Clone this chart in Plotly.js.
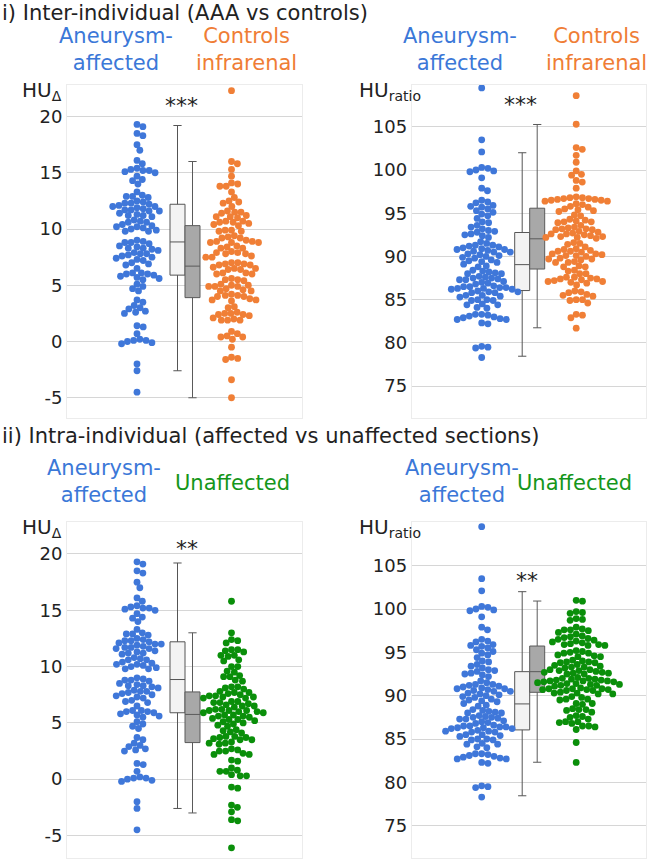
<!DOCTYPE html>
<html>
<head>
<meta charset="utf-8">
<script src="https://cdn.plot.ly/plotly-3.0.1.min.js"></script>
<style>
  html, body { margin: 0; padding: 0; background: #fff; }
  #chart { width: 647px; height: 861px; }
</style>
</head>
<body>
<div id="chart"></div>
<script>
// HU delta values
var affectedDelta = [19.3, 19.1, 18.5, 18.3, 17.5, 17.0, 16.1, 15.8,
    15.4, 15.3, 15.2, 15.2, 15.1, 15.0,
    14.7, 14.4, 14.3, 14.0, 13.3,
    13.0, 12.9, 12.9, 12.8,
    12.5, 12.4, 12.3, 12.3, 12.2,
    12.1, 12.0, 12.0, 11.9,
    11.8, 11.7, 11.7, 11.6, 11.6,
    11.4, 11.3, 11.2, 11.2, 11.1,
    10.8, 10.7, 10.6, 10.6,
    10.4, 10.3, 10.2, 10.2, 10.1,
    10.0, 9.9, 9.8, 9.8,
    9.0, 8.9, 8.8, 8.8, 8.7,
    8.5, 8.4, 8.3, 8.3, 8.2, 8.1,
    7.9, 7.8, 7.8, 7.7, 7.6,
    7.5, 7.4, 7.3, 7.2,
    7.0, 6.9, 6.8, 6.5,
    6.1, 6.1, 6.0, 6.0, 5.9,
    5.8, 5.7, 5.6, 5.5,
    5.1, 4.9, 4.7, 4.5,
    3.7, 3.5, 3.2, 3.0, 2.9, 2.7, 2.6, 2.5,
    1.4, 1.3, 0.7,
    0.2, 0.1, 0.1, 0.0, -0.1, -0.2,
    -2.0, -2.6, -4.5];

var controlsDelta = [22.3,
    16.0, 15.8, 15.3, 14.7, 14.1, 14.0, 13.8, 13.8, 13.3, 12.8,
    12.5, 12.4, 12.3, 12.0,
    11.6, 11.5, 11.5, 11.4,
    11.2, 11.1, 11.1, 11.0,
    10.7, 10.7, 10.6, 10.6, 10.5,
    10.4, 10.3,
    9.9, 9.9, 9.8, 9.8,
    9.4, 9.3, 9.2, 9.2,
    9.0, 8.9, 8.9, 8.8, 8.8, 8.8,
    8.5, 8.4, 8.3, 8.3,
    8.0, 7.9, 7.9, 7.8, 7.8,
    7.6, 7.5, 7.5,
    7.0, 7.0, 6.9, 6.9, 6.8, 6.8,
    6.6, 6.5, 6.5, 6.4, 6.4,
    6.1, 6.1, 6.0, 6.0,
    5.6, 5.5, 5.5, 5.4,
    5.1, 5.0, 5.0, 4.9, 4.9, 4.9,
    4.7, 4.6, 4.5, 4.5,
    4.2, 4.1, 4.1, 4.0, 4.0,
    3.8, 3.7, 3.7, 3.6,
    3.1, 3.0,
    2.6, 2.5, 2.5, 2.4, 2.4, 2.3,
    2.1, 2.0, 1.9, 1.9, 1.9,
    0.9, 0.7, 0.5, 0.4, 0.4, 0.2,
    -0.5, -1.4, -1.5, -1.6, -3.4, -5.0];

var unaffectedDelta = [15.8, 13.0,
    12.4, 12.3, 12.1,
    11.5, 11.5, 11.4, 11.3,
    11.0, 11.0, 10.9, 10.6, 10.5,
    10.0, 10.0, 9.6, 9.5,
    9.2, 9.1, 9.1, 8.8, 8.7,
    8.2, 8.2, 8.1, 8.0,
    7.8, 7.7, 7.7, 7.6,
    7.5, 7.4, 7.4, 7.3, 7.3, 7.2, 7.2,
    6.9, 6.9, 6.8, 6.8, 6.7,
    6.6, 6.5, 6.5, 6.4,
    6.2, 6.2, 6.1, 6.1, 6.1, 6.0, 6.0, 5.9, 5.9,
    5.7, 5.7, 5.6, 5.6, 5.5,
    5.4, 5.3, 5.3, 5.2, 5.1,
    5.0, 4.9, 4.8, 4.7,
    4.4, 4.3, 4.2, 4.1,
    3.8, 3.8, 3.7, 3.7, 3.6, 3.5, 3.5,
    3.3, 3.2, 3.2, 3.1,
    2.7, 2.6, 2.5, 2.5,
    2.3, 2.2, 2.2, 1.7, 1.6,
    1.0, 0.8, 0.7, 0.7, 0.4, 0.3, 0.3,
    -0.7, -0.8, -2.3, -2.5, -2.9,
    -3.6, -3.7, -6.1];

// HU ratio values
var affectedRatio = [109.5, 103.5, 102.1,
    100.3, 100.2, 100.0, 99.9, 99.8, 99.1,
    97.9, 97.6,
    96.5, 96.3, 96.2, 95.9, 95.8, 95.7, 95.5, 95.3, 95.1, 94.9,
    94.7, 94.4, 94.0, 93.9, 93.6,
    93.4, 93.2, 93.0, 92.9, 92.8, 92.6, 92.5, 92.4, 92.2,
    91.7, 91.5, 91.3, 91.3, 91.2, 91.1,
    91.0, 90.9, 90.8, 90.8, 90.7,
    90.6, 90.5, 90.5, 90.3, 90.2, 90.1, 90.0,
    89.9, 89.8, 89.6, 89.5, 89.4, 89.3,
    89.1, 88.9, 88.8,
    88.4, 88.3, 88.2, 88.1, 88.0, 88.0,
    87.7, 87.6, 87.5, 87.5, 87.4, 87.3, 87.3,
    87.1, 87.0, 86.9, 86.8,
    86.6, 86.5, 86.5, 86.4, 86.4, 86.3, 86.3, 86.2, 86.2,
    86.0, 85.9, 85.9, 85.8, 85.8,
    85.5, 85.5, 85.4, 85.3,
    85.0, 85.0, 84.9, 84.9,
    84.5, 84.4, 84.4, 84.1, 84.0,
    83.3, 83.3, 83.2, 83.1, 83.0,
    82.9, 82.8, 82.7, 82.7, 82.3, 82.2,
    79.6, 79.5, 79.4, 78.3];

var controlsRatio = [108.6, 105.3, 102.6, 102.4, 101.7, 100.9,
    99.9, 99.5, 99.4, 98.8, 98.6, 97.9,
    96.9, 96.8, 96.8, 96.7, 96.7, 96.6, 96.6, 96.5, 96.5, 96.4, 96.4,
    96.1, 96.0, 95.8, 95.7,
    95.5, 95.4, 95.3, 95.2,
    94.8, 94.7,
    94.3, 94.2, 94.1, 94.0, 94.0, 93.9,
    93.6, 93.4, 93.3, 93.2, 93.2, 93.1, 93.1,
    92.9, 92.8, 92.7, 92.6, 92.6, 92.5,
    92.4, 92.3, 92.3, 92.2, 92.2, 92.1,
    91.6, 91.5, 91.4, 91.1,
    90.9, 90.8, 90.7, 90.6, 90.6, 90.5,
    90.3, 90.3, 90.2, 90.1, 90.1, 90.0,
    89.8, 89.7, 89.7, 89.6,
    89.4, 89.3, 89.3,
    88.9, 88.8, 88.8, 88.4, 88.3, 88.0, 88.0,
    87.6, 87.6, 87.5, 87.4, 87.4, 87.3,
    87.2, 87.1, 87.1, 87.0, 86.9, 86.7,
    86.0, 85.9, 85.8,
    85.6, 85.5, 85.4,
    85.0, 85.0, 84.9, 84.6,
    83.3, 83.2, 82.9, 81.7];

var unaffectedRatio = [101.0, 100.9,
    99.7, 99.6, 99.5, 98.9, 98.8, 98.7,
    97.9, 97.7, 97.6, 97.6, 97.5, 97.3,
    97.1, 96.9, 96.8, 96.7,
    96.6, 96.5, 96.4, 96.3, 96.2, 96.1,
    96.0, 95.9, 95.9, 95.8, 95.8,
    95.2, 95.1, 95.0, 94.9, 94.9,
    94.7, 94.6, 94.5, 94.5,
    94.1, 94.0, 93.9, 93.9, 93.8, 93.8,
    93.6, 93.5, 93.4, 93.3, 93.3, 93.2,
    93.0, 93.0, 92.9, 92.9,
    92.8, 92.7, 92.7, 92.6, 92.6, 92.5, 92.5,
    92.1, 92.0, 92.0, 91.9,
    91.9, 91.8, 91.8, 91.7, 91.7, 91.7, 91.6, 91.6, 91.5,
    91.4, 91.4, 91.3, 91.3, 91.2, 91.2, 91.1,
    90.9, 90.8, 90.8, 90.8, 90.7, 90.7, 90.7, 90.6, 90.6,
    90.4, 90.3, 90.3, 90.2, 90.2,
    89.9, 89.8, 89.6, 89.6, 89.5,
    89.1, 89.1, 89.0,
    88.5, 88.4, 88.4, 88.3, 88.1,
    87.7, 87.6, 87.5, 87.3,
    87.0, 87.0, 86.9, 86.8,
    86.5, 86.5, 86.4, 86.1,
    84.6, 82.3];

// box statistics: [lower whisker, q1, median, q3, upper whisker]
var affectedDeltaBox   = [-2.6, 5.9, 8.85, 12.2, 19.2];
var controlsDeltaBox   = [-5.0, 3.9, 6.7, 10.3, 16.0];
var unaffectedDeltaBox = [-3.0, 3.25, 5.75, 7.75, 13.0];
var affectedRatioBox   = [78.45, 86.05, 89.05, 92.77, 102.0];
var controlsRatioBox   = [81.74, 88.54, 92.04, 95.58, 105.27];
var unaffectedRatioBox = [82.32, 90.39, 92.77, 95.73, 100.92];

var deltaTicks = [-5, 0, 5, 10, 15, 20];
var deltaTickText = ['-5', '0', '5', '10', '15', '20'];
var ratioTicks = [75, 80, 85, 90, 95, 100, 105];
var ratioTickText = ['75', '80', '85', '90', '95', '100', '105'];

var titles = ['i) Inter-individual (AAA vs controls)',
              'ii) Intra-individual (affected vs unaffected sections)'];
var groupNames = ['Aneurysm-<br>affected', 'Controls<br>infrarenal', 'Unaffected'];
var signif = ['***', '***', '**', '**'];

var W = 647, H = 861;
var FONT = 'DejaVu Sans, Verdana, sans-serif';
var BLUE = '#3f77d9', ORANGE = '#f07f36', GREEN = '#0a8f0a';
var BLUE_TXT = '#3b78d8', ORANGE_TXT = '#ef7d35', GREEN_TXT = '#15961a';

function px(x) { return x / W; }
function py(y) { return 1 - y / H; }

// simple beeswarm: offsets (in px) so that dots of diameter d don't overlap
function swarm(values, pxPerUnit, d) {
    var order = values.map(function (v, i) { return i; })
        .sort(function (a, b) { return values[b] - values[a]; });
    var placed = [];
    var xs = new Array(values.length);
    order.forEach(function (i) {
        var y = values[i] * pxPerUnit;
        var near = placed.filter(function (p) { return Math.abs(p.y - y) < d; });
        var cands = [0];
        near.forEach(function (p) {
            var dx = Math.sqrt(d * d - (p.y - y) * (p.y - y));
            cands.push(p.x + dx, p.x - dx);
        });
        cands.sort(function (a, b) { return Math.abs(a) - Math.abs(b); });
        var x = cands.find(function (c) {
            return near.every(function (p) {
                return (p.x - c) * (p.x - c) + (p.y - y) * (p.y - y) >= d * d - 0.01;
            });
        });
        placed.push({x: x, y: y});
        xs[i] = x;
    });
    return xs;
}

var panels = [
    {id: '',  x0: 67,    x1: 302, y0: 85,  y1: 418, range: [-6.8, 22.8], left: affectedDelta, right: controlsDelta,
     leftBox: affectedDeltaBox, rightBox: controlsDeltaBox, rightColor: ORANGE, tv: deltaTicks, tt: deltaTickText},
    {id: '2', x0: 411.7, x1: 646, y0: 85,  y1: 418, range: [71.3, 109.84], left: affectedRatio, right: controlsRatio,
     leftBox: affectedRatioBox, rightBox: controlsRatioBox, rightColor: ORANGE, tv: ratioTicks, tt: ratioTickText},
    {id: '3', x0: 67,    x1: 302, y0: 522, y1: 858, range: [-7.0, 22.84], left: affectedDelta, right: unaffectedDelta,
     leftBox: affectedDeltaBox, rightBox: unaffectedDeltaBox, rightColor: GREEN, tv: deltaTicks, tt: deltaTickText},
    {id: '4', x0: 411.7, x1: 646, y0: 522, y1: 858, range: [71.27, 110.04], left: affectedRatio, right: unaffectedRatio,
     leftBox: affectedRatioBox, rightBox: unaffectedRatioBox, rightColor: GREEN, tv: ratioTicks, tt: ratioTickText}
];

var layout = {
    width: W, height: H,
    margin: {l: 0, r: 0, t: 0, b: 0},
    paper_bgcolor: '#fff', plot_bgcolor: '#fff',
    showlegend: false,
    font: {family: FONT, color: '#222'},
    annotations: []
};

function boxTrace(stats, pos, xa, ya, fill, line) {
    return {type: 'box', x: [pos], xaxis: xa, yaxis: ya, width: 15,
        lowerfence: [stats[0]], q1: [stats[1]], median: [stats[2]], q3: [stats[3]], upperfence: [stats[4]],
        boxpoints: false, whiskerwidth: 0.55, fillcolor: fill,
        line: {color: line, width: 1}, hoverinfo: 'skip'};
}

var boxes = [];
var dots = [];
panels.forEach(function (p) {
    var xa = 'x' + p.id, ya = 'y' + p.id;
    var w = p.x1 - p.x0;
    var pxPerUnit = (p.y1 - p.y0) / (p.range[1] - p.range[0]);

    boxes.push(boxTrace(p.leftBox, 110.5, xa, ya, '#f3f3f3', '#555'));
    boxes.push(boxTrace(p.rightBox, 125.5, xa, ya, '#a8a8a8', '#5a5a5a'));

    var lo = swarm(p.left, pxPerUnit, 6.3);
    var ro = swarm(p.right, pxPerUnit, 6.3);
    dots.push({type: 'scatter', mode: 'markers', xaxis: xa, yaxis: ya,
        x: lo.map(function (o) { return 70 + o; }), y: p.left,
        marker: {size: 6.8, color: BLUE}, hoverinfo: 'skip', cliponaxis: false});
    dots.push({type: 'scatter', mode: 'markers', xaxis: xa, yaxis: ya,
        x: ro.map(function (o) { return 164.5 + o; }), y: p.right,
        marker: {size: 6.8, color: p.rightColor}, hoverinfo: 'skip', cliponaxis: false});

    layout['xaxis' + p.id] = {domain: [px(p.x0), px(p.x1)], range: [0, w], anchor: ya,
        showgrid: false, zeroline: false, showticklabels: false, ticks: '',
        showline: true, mirror: true, linecolor: '#ececec', linewidth: 1, fixedrange: true};
    layout['yaxis' + p.id] = {domain: [py(p.y1), py(p.y0)], range: p.range, anchor: xa,
        tickvals: p.tv, ticktext: p.tt, showgrid: true, gridcolor: '#d6d6d6', gridwidth: 1,
        zeroline: false, showline: true, mirror: true, linecolor: '#ececec', ticks: '',
        tickfont: {size: 18, color: '#222', family: FONT}, fixedrange: true};
});
var data = boxes.concat(dots);

function note(text, x, y, size, color, anchor) {
    layout.annotations.push({text: text, xref: 'paper', yref: 'paper', x: px(x), y: py(y),
        xanchor: anchor || 'center', yanchor: 'middle', showarrow: false, align: 'center',
        font: {family: FONT, size: size, color: color || '#222'}});
}

note(titles[0], 0, 13, 21, '#222', 'left');
note(titles[1], 0, 436, 21, '#222', 'left');

note(groupNames[0], 116, 50, 21, BLUE_TXT);
note(groupNames[1], 246, 50, 21, ORANGE_TXT);
note(groupNames[0], 460, 50, 21, BLUE_TXT);
note(groupNames[1], 596, 50, 21, ORANGE_TXT);
note(groupNames[0], 104, 482, 21, BLUE_TXT);
note(groupNames[2], 232, 483, 21, GREEN_TXT);
note(groupNames[0], 462, 482, 21, BLUE_TXT);
note(groupNames[2], 574, 483, 21, GREEN_TXT);

note('HU<sub>Δ</sub>', 20, 91, 20, '#222', 'left');
note('HU<sub>ratio</sub>', 357, 91, 20, '#222', 'left');
note('HU<sub>Δ</sub>', 20, 528, 20, '#222', 'left');
note('HU<sub>ratio</sub>', 357, 528, 20, '#222', 'left');

note(signif[0], 182, 106, 22, '#222');
note(signif[1], 520, 104, 22, '#222');
note(signif[2], 187, 548, 22, '#222');
note(signif[3], 527, 580, 22, '#222');

Plotly.newPlot('chart', data, layout, {staticPlot: true});
</script>
</body>
</html>
